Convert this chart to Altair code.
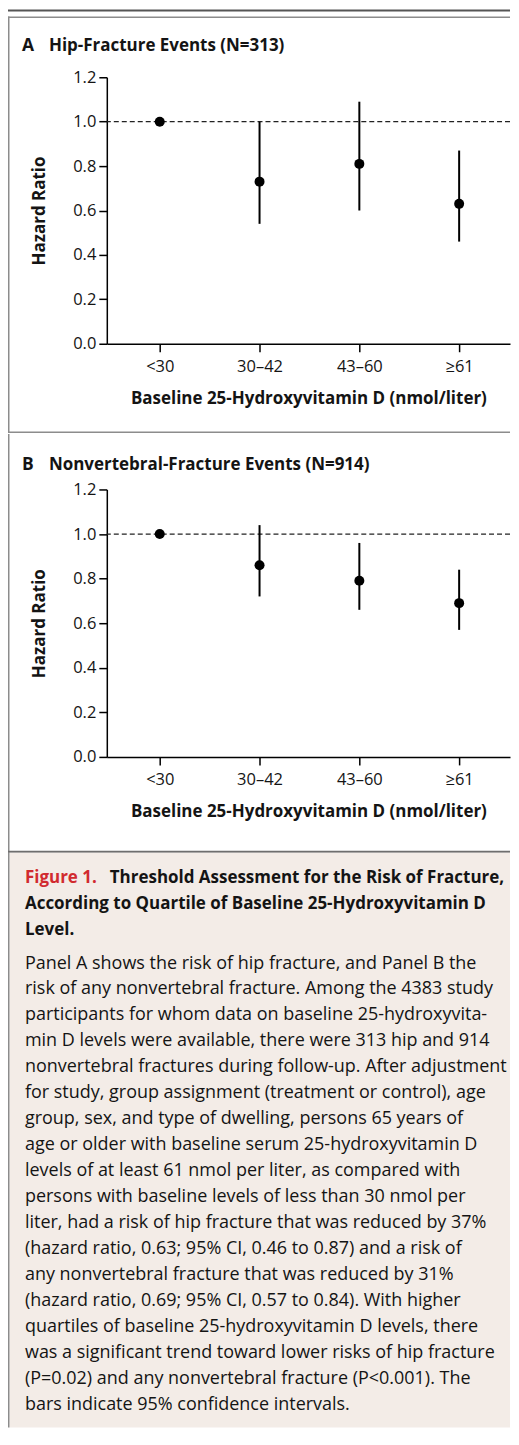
import altair as alt
import pandas as pd

# ---------------- data ----------------
categories = ["<30", "30–42", "43–60", "≥61"]
hip_hr = [1.00, 0.73, 0.81, 0.63]
hip_lo = [None, 0.54, 0.60, 0.46]
hip_hi = [None, 1.00, 1.09, 0.87]
nonvert_hr = [1.00, 0.86, 0.79, 0.69]
nonvert_lo = [None, 0.72, 0.66, 0.57]
nonvert_hi = [None, 1.04, 0.96, 0.84]
y_ticks = [0.0, 0.2, 0.4, 0.6, 0.8, 1.0, 1.2]
y_domain = [0.0, 1.2]
reference_ratio = [1.0]

panel_letters = ["A", "B"]
panel_titles = ["Hip-Fracture Events (N=313)", "Nonvertebral-Fracture Events (N=914)"]
x_title = "Baseline 25-Hydroxyvitamin D (nmol/liter)"
y_title = "Hazard Ratio"

caption_label = ["Figure 1."]
caption_title = [
    "Threshold Assessment for the Risk of Fracture,",
    "According to Quartile of Baseline 25-Hydroxyvitamin D",
    "Level.",
]
caption_body = [
    "Panel A shows the risk of hip fracture, and Panel B the",
    "risk of any nonvertebral fracture. Among the 4383 study",
    "participants for whom data on baseline 25-hydroxyvita-",
    "min D levels were available, there were 313 hip and 914",
    "nonvertebral fractures during follow-up. After adjustment",
    "for study, group assignment (treatment or control), age",
    "group, sex, and type of dwelling, persons 65 years of",
    "age or older with baseline serum 25-hydroxyvitamin D",
    "levels of at least 61 nmol per liter, as compared with",
    "persons with baseline levels of less than 30 nmol per",
    "liter, had a risk of hip fracture that was reduced by 37%",
    "(hazard ratio, 0.63; 95% CI, 0.46 to 0.87) and a risk of",
    "any nonvertebral fracture that was reduced by 31%",
    "(hazard ratio, 0.69; 95% CI, 0.57 to 0.84). With higher",
    "quartiles of baseline 25-hydroxyvitamin D levels, there",
    "was a significant trend toward lower risks of hip fracture",
    "(P=0.02) and any nonvertebral fracture (P<0.001). The",
    "bars indicate 95% confidence intervals.",
]

# ---------------- style ----------------
FONT = "Open Sans"
INK = "#141414"
FRAME = "#8c8c8c"
RED = "#d12a2f"
CAPTION_BG = "#f3ece7"
W = 404
LEFT = -99


def deco_rect(x, x2, y, y2, color):
    return alt.Chart(alt.Data(values=[{"k": 0}])).mark_rect(color=color).encode(
        x=alt.value(x), x2=alt.value(x2), y=alt.value(y), y2=alt.value(y2)
    )


def panel(idx, hr, lo, hi, height, decos, letter_y):
    df = pd.DataFrame({"category": categories, "hr": hr, "lo": lo, "hi": hi})
    xenc = alt.X(
        "category:N",
        sort=categories,
        scale=alt.Scale(type="point", padding=0.52, align=0.51),
        axis=alt.Axis(title=x_title, labelAngle=0, labelPadding=7, titlePadding=15, tickSize=8),
    )
    yscale = alt.Scale(domain=y_domain, nice=False, zero=True)
    yaxis = alt.Axis(title=y_title, values=y_ticks, format=".1f", labelPadding=3,
                     titlePadding=24, tickSize=8)

    ref = alt.Chart(pd.DataFrame({"r": reference_ratio})).mark_rule(
        color="#222222", strokeWidth=1.3, strokeDash=[5, 3]
    ).encode(y=alt.Y("r:Q", scale=yscale, axis=yaxis))
    ci = alt.Chart(df).transform_filter("isValid(datum.lo)").mark_rule(
        color="black", strokeWidth=2
    ).encode(x=xenc, y=alt.Y("lo:Q", scale=yscale, axis=yaxis), y2="hi:Q")
    pts = alt.Chart(df).mark_circle(size=100, color="black", opacity=1).encode(
        x=xenc, y=alt.Y("hr:Q", scale=yscale, axis=yaxis)
    )
    letter = alt.Chart(pd.DataFrame({"t": [panel_letters[idx]]})).mark_text(
        align="left", baseline="middle", font=FONT, fontSize=17.5, fontWeight="bold", color=INK
    ).encode(x=alt.value(-85), y=alt.value(letter_y), text="t:N")
    title = alt.Chart(pd.DataFrame({"t": [panel_titles[idx]]})).mark_text(
        align="left", baseline="middle", font=FONT, fontSize=17, fontWeight="bold", color=INK
    ).encode(x=alt.value(-58), y=alt.value(letter_y), text="t:N")
    return alt.layer(*decos, ref, ci, pts, letter, title).properties(width=W, height=height)


panel_a = panel(
    0, hip_hr, hip_lo, hip_hi, 267,
    [
        deco_rect(LEFT, W, -68, -66, "#555555"),
        deco_rect(LEFT, W, -61, -59.5, FRAME),
        deco_rect(LEFT, LEFT + 1.5, -61, 356.5, FRAME),
        deco_rect(LEFT, W, 355, 356.5, FRAME),
    ],
    -31,
)

panel_b = panel(
    1, nonvert_hr, nonvert_lo, nonvert_hi, 268,
    [
        deco_rect(LEFT, LEFT + 1.5, -55.5, 364, FRAME),
        deco_rect(LEFT, W, 362, 364, "#6e6e6e"),
    ],
    -24,
)

CAP_H = 576
yc = alt.Y("line:Q", scale=alt.Scale(domain=[0, 20], range=[25, 545]), axis=None)
cap_label = alt.Chart(pd.DataFrame({"line": [0], "text": caption_label})).mark_text(
    align="left", baseline="middle", font=FONT, fontSize=17, fontWeight="bold", color=RED
).encode(x=alt.value(-82), y=yc, text="text:N")
cap_title0 = alt.Chart(pd.DataFrame({"line": [0], "text": caption_title[:1]})).mark_text(
    align="left", baseline="middle", font=FONT, fontSize=17, fontWeight="bold", color=INK,
    limit=W - 3, ellipsis=" "
).encode(x=alt.value(3), y=yc, text="text:N")
cap_title = alt.Chart(pd.DataFrame({"line": [1, 2], "text": caption_title[1:]})).mark_text(
    align="left", baseline="middle", font=FONT, fontSize=17, fontWeight="bold", color=INK,
    limit=W + 82, ellipsis=" "
).encode(x=alt.value(-82), y=yc, text="text:N")
cap_body = alt.Chart(
    pd.DataFrame({"line": list(range(3, 3 + len(caption_body))), "text": caption_body})
).mark_text(
    align="left", baseline="middle", font=FONT, fontSize=18, color=INK, dy=8,
    limit=W + 82, ellipsis=" "
).encode(x=alt.value(-82), y=yc, text="text:N")

caption = alt.layer(
    deco_rect(LEFT + 1.5, W, 0, CAP_H, CAPTION_BG),
    deco_rect(LEFT, LEFT + 1.5, 0, CAP_H, FRAME),
    cap_label, cap_title0, cap_title, cap_body,
).properties(width=W, height=CAP_H)

chart = (
    alt.vconcat(panel_a, panel_b, caption, spacing=0)
    .properties(padding=0, background="white")
    .configure_view(strokeWidth=0)
    .configure_axis(
        domainColor="black", domainWidth=1.5, tickColor="black", tickWidth=1.5,
        labelFont=FONT, labelFontSize=16.5, labelColor=INK,
        titleFont=FONT, titleFontSize=17, titleFontWeight="bold", titleColor=INK,
        grid=False,
    )
)

chart.save("out.html", embed_options={"renderer": "svg", "actions": False})
